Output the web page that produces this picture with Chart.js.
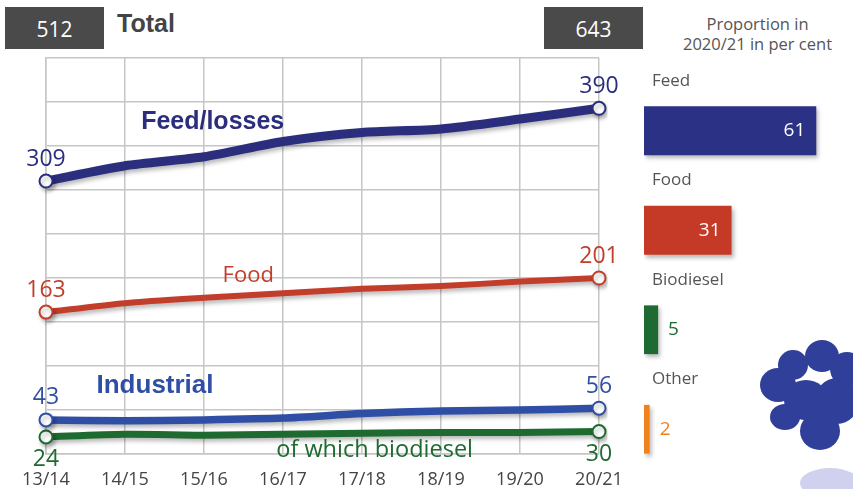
<!DOCTYPE html>
<html lang="en">
<head>
<meta charset="UTF-8">
<title>Rapeseed use 2013/14 - 2020/21</title>
<script src="https://cdn.jsdelivr.net/npm/chart.js@4.4.0/dist/chart.umd.min.js"></script>
<style>
    body {
        margin: 0;
        width: 853px;
        height: 489px;
        overflow: hidden;
        position: relative;
        background: #fff;
        font-family: 'Open Sans', sans-serif;
    }
    .box {
        position: absolute;
        top: 7px;
        width: 99px;
        height: 42px;
        background: #4a4a4a;
        color: #fff;
        font-size: 21px;
        line-height: 44px;
        text-align: center;
    }
    .total-label {
        position: absolute;
        left: 117px;
        top: 9px;
        font-family: 'Liberation Sans', Arial, sans-serif;
        font-weight: bold;
        font-size: 25px;
        color: #444;
    }
    .prop-title {
        position: absolute;
        left: 660px;
        width: 195px;
        top: 14px;
        text-align: center;
        font-size: 16.5px;
        line-height: 20px;
        color: #555;
    }
    #lineWrap { position: absolute; left: 0; top: 0; width: 630px; height: 489px; }
    #barWrap { position: absolute; left: 630px; top: 0; width: 223px; height: 489px; }
    .petal { position: absolute; background: #2f3f9a; border-radius: 50%; }
    .mirror { position: absolute; background: #cfd1ee; border-radius: 50%; }
</style>
</head>
<body>
    <div class="box" style="left:5px">512</div>
    <div class="total-label">Total</div>
    <div class="box" style="left:544px">643</div>
    <div class="prop-title">Proportion in<br>2020/21 in per cent</div>

    <!-- flower decoration -->
    <div class="petal" style="left:760px;top:368px;width:36px;height:34px"></div>
    <div class="petal" style="left:778px;top:350px;width:30px;height:30px"></div>
    <div class="petal" style="left:805px;top:340px;width:34px;height:32px"></div>
    <div class="petal" style="left:830px;top:352px;width:34px;height:34px"></div>
    <div class="petal" style="left:784px;top:380px;width:44px;height:40px"></div>
    <div class="petal" style="left:815px;top:378px;width:44px;height:46px"></div>
    <div class="petal" style="left:770px;top:404px;width:30px;height:26px"></div>
    <div class="petal" style="left:800px;top:412px;width:40px;height:38px"></div>
    <div class="mirror" style="left:800px;top:468px;width:60px;height:30px"></div>

    <div id="lineWrap"><canvas id="useChart"></canvas></div>
    <div id="barWrap"><canvas id="shareChart"></canvas></div>

<script>
    // 1,000 t, marketing years
    const seasons = ['13/14', '14/15', '15/16', '16/17', '17/18', '18/19', '19/20', '20/21'];
    const feedLosses = [309, 326, 336, 353, 363, 367, 378, 390];
    const food = [163, 173, 179, 184, 189, 192, 197, 201];
    const industrial = [43, 42, 43, 45, 50, 53, 54, 56];
    const biodiesel = [24, 27, 26, 27, 28, 29, 29, 30];

    // share in 2020/21, per cent
    const shareCategories = ['Feed', 'Food', 'Biodiesel', 'Other'];
    const shares = [61, 31, 5, 2];

    const yMin = 5, yMax = 446, yStep = 49;

    const seriesNames = ['Feed/losses', 'Food', 'Industrial', 'of which biodiesel'];
    const seriesColors = ['#2b2e7d', '#c23d2a', '#2f4fa6', '#1e6a30'];
    const shareColors = ['#2b3184', '#c43a27', '#1e6a32', '#f0821e'];

    // where the series names sit (category index, value)
    const nameSpots = [[2.11, 375], [2.56, 203], [1.38, 81], [4.16, 9]];
    const nameFonts = [
        'bold 25px "Liberation Sans", Arial, sans-serif',
        '22px "Open Sans", sans-serif',
        'bold 26px "Liberation Sans", Arial, sans-serif',
        '23.5px "Open Sans", sans-serif'
    ];
    const endLabelBelow = [false, false, false, true];

    const lineShadow = {
        id: 'lineShadow',
        beforeDatasetDraw(chart) {
            const c = chart.ctx;
            c.save();
            c.shadowColor = 'rgba(0,0,0,0.28)';
            c.shadowBlur = 4;
            c.shadowOffsetX = 2;
            c.shadowOffsetY = 3;
        },
        afterDatasetDraw(chart) {
            chart.ctx.restore();
        }
    };

    const lineLabels = {
        id: 'lineLabels',
        afterDatasetsDraw(chart) {
            const c = chart.ctx;
            const xs = chart.scales.x, ys = chart.scales.y;
            c.save();
            c.textAlign = 'center';
            c.textBaseline = 'middle';
            chart.data.datasets.forEach((ds, i) => {
                const meta = chart.getDatasetMeta(i);
                c.fillStyle = seriesColors[i];
                c.font = '23px "Open Sans", sans-serif';
                [0, ds.data.length - 1].forEach(j => {
                    const p = meta.data[j];
                    const dy = endLabelBelow[i] ? 23 : -22;
                    c.fillText(ds.data[j], p.x, p.y + dy);
                });
                c.font = nameFonts[i];
                c.fillText(seriesNames[i], xs.getPixelForValue(nameSpots[i][0]), ys.getPixelForValue(nameSpots[i][1]));
            });
            c.restore();
        }
    };

    function makeLine(values, i, width) {
        return {
            label: seriesNames[i],
            data: values,
            borderColor: seriesColors[i],
            borderWidth: width,
            tension: 0.25,
            pointRadius: ctx => (ctx.dataIndex === 0 || ctx.dataIndex === values.length - 1) ? 6.5 : 0,
            pointBackgroundColor: '#fff',
            pointBorderColor: seriesColors[i],
            pointBorderWidth: 2
        };
    }

    new Chart(document.getElementById('useChart'), {
        type: 'line',
        data: {
            labels: seasons,
            datasets: [
                makeLine(feedLosses, 0, 9),
                makeLine(food, 1, 6),
                makeLine(industrial, 2, 7.5),
                makeLine(biodiesel, 3, 7)
            ]
        },
        options: {
            responsive: true,
            maintainAspectRatio: false,
            animation: false,
            layout: { padding: { left: 46, right: 31, top: 58, bottom: 0 } },
            plugins: { legend: { display: false }, tooltip: { enabled: false } },
            scales: {
                x: {
                    afterFit(scale) {
                        scale.height = 35;
                        scale.paddingLeft = 0;
                        scale.paddingRight = 0;
                    },
                    grid: { color: '#c6c6c6', lineWidth: 1.5, drawTicks: false },
                    border: { color: '#c6c6c6', width: 1.5 },
                    ticks: { color: '#444', padding: 15, font: { family: 'Open Sans', size: 18 }, maxRotation: 0 }
                },
                y: {
                    min: yMin,
                    max: yMax,
                    ticks: { stepSize: yStep, display: false },
                    grid: { color: '#c6c6c6', lineWidth: 1.5, drawTicks: false },
                    border: { color: '#c6c6c6', width: 1.5 }
                }
            }
        },
        plugins: [lineShadow, lineLabels]
    });

    const shareLabels = {
        id: 'shareLabels',
        afterDatasetsDraw(chart) {
            const c = chart.ctx;
            const meta = chart.getDatasetMeta(0);
            c.save();
            c.textBaseline = 'middle';
            meta.data.forEach((bar, i) => {
                c.font = '17px "Open Sans", sans-serif';
                c.fillStyle = '#555';
                c.textAlign = 'left';
                c.fillText(shareCategories[i], chart.chartArea.left + 8, bar.y - 50);
                c.font = '19px "Open Sans", sans-serif';
                if (bar.x - bar.base > 50) {
                    c.fillStyle = '#fff';
                    c.textAlign = 'right';
                    c.fillText(shares[i], bar.x - 11, bar.y);
                } else {
                    c.fillStyle = shareColors[i];
                    c.textAlign = 'left';
                    c.fillText(shares[i], bar.x + 10, bar.y);
                }
            });
            c.restore();
        }
    };

    new Chart(document.getElementById('shareChart'), {
        type: 'bar',
        data: {
            labels: shareCategories,
            datasets: [{
                data: shares,
                backgroundColor: shareColors,
                categoryPercentage: 1,
                barPercentage: 0.49
            }]
        },
        options: {
            indexAxis: 'y',
            responsive: true,
            maintainAspectRatio: false,
            animation: false,
            layout: { padding: { left: 14, right: 0, top: 81, bottom: 10 } },
            plugins: { legend: { display: false }, tooltip: { enabled: false } },
            scales: {
                x: { display: false, min: 0, max: 74 },
                y: { display: false }
            }
        },
        plugins: [lineShadow, shareLabels]
    });
</script>
</body>
</html>
